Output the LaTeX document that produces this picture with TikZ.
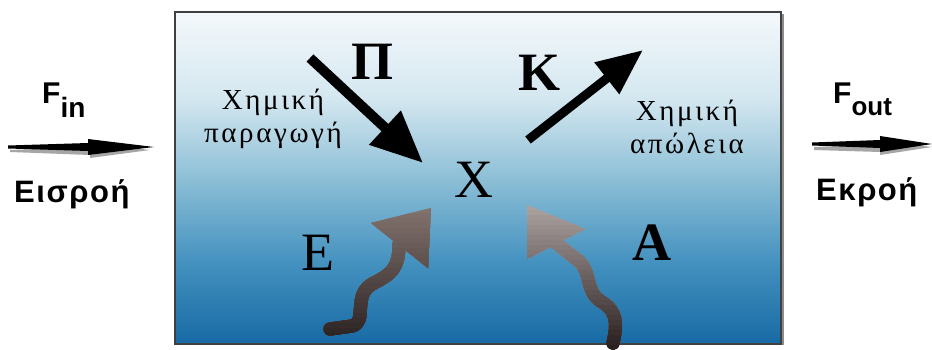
\documentclass[tikz,border=0pt]{standalone}
\usepackage{fontspec}
\setmainfont{Liberation Serif}
\newfontfamily\sansb{Liberation Sans}
\newfontfamily\sansw{Liberation Sans}[LetterSpace=5]
\newfontfamily\spgreek{Liberation Serif}[LetterSpace=9]
\usetikzlibrary{arrows.meta}
\definecolor{bgtop}{HTML}{F4F8FB}
\definecolor{bgq1}{HTML}{D4E7F0}
\definecolor{bgmid}{HTML}{8DBFD6}
\definecolor{bgq3}{HTML}{4592C0}
\definecolor{bgbot}{HTML}{176AA4}
\definecolor{eTop}{HTML}{857570}
\definecolor{eBot}{HTML}{2A2222}
\definecolor{aTop}{HTML}{B0A6A4}
\definecolor{aBot}{HTML}{2A2020}
\pgfdeclareverticalshading{boxshade}{100bp}{color(0bp)=(bgbot); color(25bp)=(bgbot); color(37.5bp)=(bgq3); color(50bp)=(bgmid); color(62bp)=(bgq1); color(75bp)=(bgtop); color(100bp)=(bgtop)}
\tikzset{
  bigl/.style={inner sep=0pt, font=\fontsize{54}{54}\selectfont},
  bigb/.style={inner sep=0pt, font=\bfseries\fontsize{54}{54}\selectfont},
  glabel/.style={inner sep=0pt, align=center, font=\spgreek\fontsize{29}{33}\selectfont},
  sidelabel/.style={inner sep=0pt, font=\sansb\bfseries\fontsize{30}{30}\selectfont},
  flowlabel/.style={inner sep=0pt, font=\sansw\bfseries\fontsize{31}{31}\selectfont},
  flowarrow/.style={fill=black},
  chemarrow/.style={draw=black, line width=#1}
}
\begin{document}
\begin{tikzpicture}[x=1pt,y=-1pt]
\useasboundingbox (0,0) rectangle (932,349);
\fill[white] (0,0) rectangle (932,349);
% reactor box
\shade[shading=boxshade] (175,12) rectangle (781,344);
\draw[black!75, line width=1.5pt] (175,12) rectangle (781,344);
\draw[black!45, line width=2pt] (782.5,14) -- (782.5,345);
% inflow
\node[sidelabel, anchor=base west] (fin) at (42,103) {F\raisebox{-14pt}{\fontsize{28}{28}\selectfont in}};
\coordinate (ina) at (8,147);
\coordinate (inb) at (154,147);
\fill[black!35] (10,150) -- (90,147) -- (90,143) -- (150,150) -- (90,158) -- (90,155) -- (10,152) -- cycle;
\fill[flowarrow] (ina) ++(0,-1.5) -- (88,143) -- (88,139) -- (inb) -- (88,155) -- (88,151) -- (8,148.5) -- cycle;
\node[flowlabel, anchor=base west] (inlbl) at (14,202) {Εισροή};
% outflow
\node[sidelabel, anchor=base west] (fout) at (833,103) {F\raisebox{-12pt}{\fontsize{26}{26}\selectfont out}};
\coordinate (outa) at (812,144);
\coordinate (outb) at (932,144);
\fill[black!35] (814,147) -- (880,145) -- (880,141) -- (932,147) -- (880,155) -- (880,152) -- (814,150) -- cycle;
\fill[flowarrow] (outa) ++(0,-1.5) -- (880,140) -- (880,136) -- (outb) -- (880,152) -- (880,148) -- (812,145.5) -- cycle;
\node[flowlabel, anchor=base west] (outlbl) at (816,200) {Εκροή};
% letters
\node[bigb] (P) at (372,62) {Π};
\node[bigb] (K) at (539,73) {Κ};
\node[bigl] (X) at (474,180) {Χ};
\node[bigl] (E) at (318,253) {Ε};
\node[bigb] (A) at (652,243) {Α};
% labels
\node[glabel] (prod) at (273,119) {Χημική\\παραγωγή};
\node[glabel] (loss) at (687,127) {Χημική\\απώλεια};
% production and loss arrows
\coordinate (pa) at (310,58);
\coordinate (pb) at (423,163);
\draw[chemarrow=10pt, -{Triangle[length=52pt,width=44pt]}] (pa) -- (pb);
\coordinate (ka) at (528,140);
\coordinate (kb) at (643,50);
\draw[chemarrow=9pt, -{Triangle[length=46pt,width=38pt]}] (ka) -- (kb);
% wavy arrow E (emission)
\coordinate (ea) at (330,329);
\coordinate (eb) at (431,208);
\foreach \i in {0,...,27} {
  \pgfmathtruncatemacro\yy{203+\i*5}
  \pgfmathtruncatemacro\mx{100-\i*100/27}
  \begin{scope}
    \clip (300,\yy) rectangle (460,350);
    \draw[line width=13pt, line cap=round, line join=round, color=eTop!\mx!eBot]
      (ea) -- (352,326) .. controls (368,322) and (352,296) .. (372,284)
      .. controls (392,274) and (399,268) .. (399,244);
    \fill[color=eTop!\mx!eBot] (371,223) -- (eb) -- (428,268) -- cycle;
  \end{scope}
}
% wavy arrow A (deposition)
\coordinate (aa) at (613,343);
\coordinate (ab) at (527,205);
\foreach \i in {0,...,29} {
  \pgfmathtruncatemacro\yy{200+\i*5}
  \pgfmathtruncatemacro\mx{100-\i*100/29}
  \begin{scope}
    \clip (500,\yy) rectangle (650,350);
    \draw[line width=13pt, line cap=round, line join=round, color=aTop!\mx!aBot]
      (aa) .. controls (617,325) and (618,312) .. (602,302)
      .. controls (585,292) and (592,275) .. (580,262) -- (556,243);
    \fill[color=aTop!\mx!aBot] (ab) -- (527,259) -- (585,229) -- cycle;
  \end{scope}
}
\end{tikzpicture}
\end{document}
